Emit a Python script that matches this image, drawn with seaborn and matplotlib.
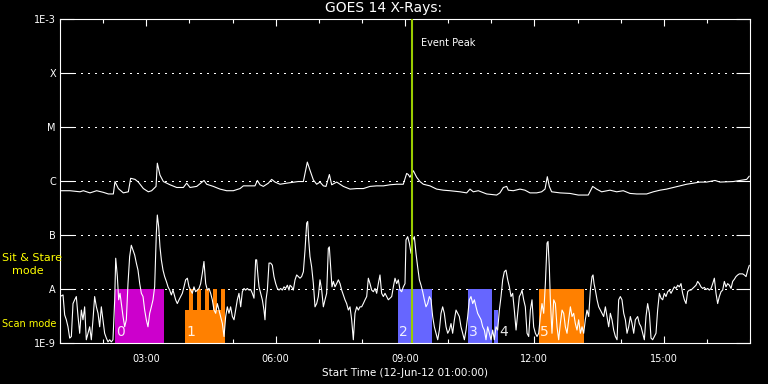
import numpy as np
import pandas as pd
import matplotlib
matplotlib.use("Agg")
import matplotlib.pyplot as plt
import seaborn as sns
from matplotlib.ticker import MultipleLocator, NullLocator

# GOES 14 X-ray flux, time in minutes after 01:00 UT, values are log10(W/m^2)
# 0.5-4 A channel (lower curve)
low_t = [0, 4.2, 6.5, 8.8, 11.1, 13.5, 15.8, 18.1, 20.4, 22.7,
         25.1, 27.4, 29.7, 32.0, 34.3, 36.6, 39.0, 41.3, 43.6, 45.9,
         48.2, 50.6, 52.9, 55.2, 57.5, 59.8, 62.1, 64.5, 66.8, 69.1,
         71.4, 73.7, 76.1, 77.5, 79.8, 81.6, 83.5, 85.3, 87.7, 90.0,
         92.3, 94.6, 96.9, 99.2, 101.6, 103.9, 106.2, 108.5, 110.9, 113.2,
         115.5, 117.8, 120.1, 122.4, 124.8, 127.1, 129.4, 131.7, 134.0, 135.4,
         137.3, 139.1, 141.0, 143.3, 145.6, 148.0, 150.3, 152.6, 154.9, 157.2,
         160.9, 163.2, 165.6, 167.9, 170.2, 172.5, 174.8, 177.2, 179.5, 181.8,
         184.1, 186.4, 188.7, 191.1, 193.4, 195.7, 198.0, 200.3, 202.7, 205.0,
         207.3, 209.6, 211.9, 214.3, 216.6, 218.9, 221.2, 223.5, 225.9, 228.2,
         230.5, 232.8, 235.1, 237.4, 239.8, 242.1, 244.4, 246.7, 249.0, 251.4,
         253.7, 256.0, 258.3, 260.6, 263.0, 265.3, 267.6, 269.9, 272.2, 273.6,
         275.5, 276.9, 279.2, 281.5, 283.8, 285.2, 286.6, 288.5, 290.8, 293.1,
         295.4, 297.7, 300.1, 302.4, 304.7, 307.0, 309.3, 311.7, 314.0, 316.3,
         318.6,
         320.0, 322.3, 324.6, 327.0, 329.3, 331.6, 333.9, 336.2, 338.6, 340.9,
         343.2, 344.6, 346.0, 347.8, 350.1, 352.5, 354.8, 357.1, 359.4, 361.7,
         364.1, 366.4, 368.7, 371.0, 373.3, 374.7, 376.6, 378.4, 380.3, 382.6,
         384.9, 387.3, 389.6, 391.9, 394.2, 396.5, 398.8, 401.2, 403.5, 405.8,
         408.1, 410.4, 412.8, 415.1, 417.4, 419.7, 422.0, 424.4, 426.7, 429.0,
         431.3, 433.6, 436.0, 438.3, 440.6, 442.9, 445.2, 447.5, 449.9, 452.2,
         454.5, 456.8, 459.1, 461.5, 463.8, 466.1, 468.4, 470.7, 473.1, 475.4,
         477.7, 480.0,
         481.4, 483.7, 486.0, 488.4, 490.7, 493.0, 495.3, 497.6, 500.0, 502.3,
         504.6, 506.9, 509.2, 511.5, 513.9, 516.2, 518.5, 520.8, 523.1, 525.5,
         527.8, 530.1, 532.4, 534.7, 537.1, 539.4, 541.7, 544.0, 546.3, 548.7,
         551.0, 553.3, 555.6, 557.9, 560.2, 562.6, 564.9, 567.2, 569.5, 571.8,
         574.2, 576.5, 578.8, 581.1, 583.4, 585.8, 588.1, 590.4, 592.7, 595.0,
         597.4, 599.7, 602.0, 604.3, 606.6, 608.9, 611.3, 613.6, 615.9, 618.2,
         620.5, 622.9, 625.2, 627.5, 629.8, 632.1, 634.5, 636.8, 639.1, 641.4,
         642.8, 645.1, 647.4, 649.8, 652.1, 654.4, 656.7, 659.0, 661.4, 663.7,
         666.0, 668.3, 670.6, 673.0, 675.3, 677.6, 679.0, 680.8, 682.2, 684.5,
         686.9, 689.2, 691.5, 693.8, 696.1, 698.5, 700.8, 703.1, 705.4, 707.7,
         710.1, 712.4, 714.7, 717.0, 719.3, 721.6, 724.0, 726.3, 728.6, 730.9,
         733.2, 735.6, 737.9, 740.2, 741.6, 743.0, 744.8, 747.2, 749.5, 751.8,
         754.1, 756.4, 758.8, 761.1, 763.4, 765.7, 768.0, 770.3, 772.7, 775.0,
         777.3, 779.6, 781.9, 784.3, 786.6, 788.9, 791.2, 793.5, 795.9, 798.2,
         800.5,
         803.7, 806.0, 808.4, 810.7, 813.0, 815.3, 817.6, 820.0, 822.3, 824.6,
         826.9, 829.2, 831.5, 833.9, 836.2, 838.5, 840.8, 843.1, 845.5, 847.8,
         850.1, 852.4, 854.7, 857.1, 859.4, 861.7, 864.0, 866.3, 868.7, 871.0,
         873.3, 875.6, 877.9, 880.2, 882.6, 884.9, 887.2, 889.5, 891.8, 894.2,
         896.5, 898.8, 901.1, 903.4, 905.8, 908.1, 910.4, 912.7, 915.0, 917.3,
         919.7, 922.0, 924.3, 926.6, 928.9, 931.3, 933.6, 935.9, 938.2, 940.5,
         942.9, 945.2, 947.5, 949.8, 952.1, 954.5, 956.8, 959.1]
low_v = [-8.14, -8.11, -8.48, -8.57, -8.70, -8.91, -8.88, -8.27, -8.20, -8.14,
         -8.51, -8.82, -8.39, -8.57, -8.33, -8.94, -8.82, -8.70, -8.94, -8.57,
         -8.14, -8.33, -8.45, -8.70, -8.33, -8.57, -8.82, -8.91, -8.98, -8.94,
         -8.98, -8.94, -8.20, -7.43, -7.77, -8.20, -8.08, -8.27, -8.51, -8.70,
         -8.57, -7.90, -7.40, -7.19, -7.28, -7.37, -7.52, -7.65, -7.90, -8.08,
         -8.14, -8.39, -8.57, -8.70, -8.45, -8.33, -8.20, -7.96, -6.97, -6.63,
         -6.85, -7.22, -7.46, -7.65, -7.77, -7.86, -7.96, -8.02, -8.11, -8.02,
         -8.20, -8.27, -8.20, -8.14, -8.08, -7.96, -7.83, -7.80, -7.96, -8.02,
         -8.08, -7.96, -8.05, -8.02, -7.99, -7.90, -7.71, -7.49, -7.90, -8.02,
         -7.99, -8.08, -8.20, -8.39, -8.45, -8.27, -8.39, -8.51, -8.64, -8.88,
         -8.51, -8.33, -8.45, -8.33, -8.51, -8.57, -8.39, -8.20, -8.08, -8.33,
         -8.05, -7.99, -8.02, -7.99, -8.02, -8.01, -8.08, -8.17, -7.46, -7.46,
         -7.77, -7.96, -8.08, -8.20, -8.39, -8.57, -8.20, -8.02, -7.52, -7.52,
         -7.56, -7.77, -7.90, -7.99, -8.02, -7.99, -8.02, -7.96, -7.99, -7.93,
         -8.02,
         -7.93, -7.96, -8.02, -7.83, -7.74, -7.77, -7.80, -7.77, -7.68, -7.28,
         -6.78, -6.75, -7.09, -7.40, -7.59, -7.90, -8.33, -8.27, -8.14, -7.83,
         -8.02, -8.33, -8.20, -8.08, -7.25, -7.22, -7.59, -7.96, -7.86, -7.96,
         -7.90, -7.83, -7.90, -8.02, -8.11, -8.20, -8.27, -8.39, -8.33, -8.57,
         -8.94, -8.45, -8.33, -8.39, -8.33, -8.33, -8.27, -8.20, -8.14, -7.80,
         -7.90, -8.02, -8.05, -7.99, -8.08, -7.90, -7.74, -8.08, -8.14, -8.08,
         -8.14, -8.20, -8.17, -8.14, -7.96, -7.80, -7.90, -7.83, -8.02, -8.05,
         -7.96, -7.90,
         -7.09, -7.03, -7.15, -7.34, -7.09, -7.03, -7.34, -7.59, -7.83, -7.93,
         -8.05, -8.20, -8.33, -8.27, -8.14, -8.20, -8.51, -8.70, -8.82, -8.94,
         -8.76, -8.45, -8.33, -8.45, -8.70, -8.82, -8.76, -8.64, -8.82, -8.57,
         -8.39, -8.45, -8.51, -8.70, -8.82, -8.94, -8.76, -8.51, -8.20, -8.14,
         -8.27, -8.20, -8.33, -8.45, -8.51, -8.57, -8.70, -8.76, -8.94, -8.70,
         -8.82, -8.94, -8.76, -8.94, -8.70, -8.76, -8.39, -8.14, -7.83, -7.68,
         -7.65, -7.83, -7.96, -8.14, -8.08, -8.39, -8.76, -8.45, -8.14, -8.08,
         -8.02, -8.20, -8.33, -8.82, -8.88, -8.39, -8.20, -8.70, -8.82, -8.88,
         -8.82, -8.51, -8.27, -8.45, -7.90, -7.15, -7.12, -7.59, -8.20, -8.82,
         -8.20, -8.27, -8.70, -8.94, -8.64, -8.39, -8.45, -8.70, -8.82, -8.57,
         -8.33, -8.51, -8.45, -8.64, -8.76, -8.57, -8.82, -8.70, -8.82, -8.57,
         -8.39, -8.51, -8.02, -7.77, -7.74, -7.90, -8.02, -8.20, -8.33, -8.39,
         -8.45, -8.51, -8.33, -8.51, -8.70, -8.45, -8.57, -8.76, -8.88, -8.94,
         -8.20, -8.14, -8.20, -8.45, -8.57, -8.82, -8.70, -8.51, -8.64, -8.82,
         -8.57,
         -8.51, -8.64, -8.70, -8.82, -8.94, -8.51, -8.27, -8.45, -8.91, -8.94,
         -8.88, -8.82, -8.39, -8.08, -8.17, -8.20, -8.08, -8.14, -8.05, -8.02,
         -8.08, -8.02, -7.96, -7.99, -7.93, -7.96, -7.90, -8.08, -8.20, -8.27,
         -8.05, -8.02, -8.02, -7.99, -7.96, -7.93, -7.86, -7.90, -7.96, -7.99,
         -7.97, -8.01, -7.99, -8.02, -7.99, -7.90, -7.80, -8.08, -8.27, -8.14,
         -8.05, -8.02, -7.86, -7.96, -7.90, -7.93, -7.99, -7.86, -7.82, -7.77,
         -7.74, -7.72, -7.72, -7.72, -7.74, -7.77, -7.65, -7.56]

# 1-8 A channel (upper curve)
high_t = [0, 13.9, 27.8, 32.5, 41.7, 51.0, 60.3, 67.3, 74.2, 76.5,
          81.2, 88.1, 95.1, 98.3, 104.4, 109.0, 116.0, 122.9, 127.5, 133.6,
          135.4, 139.1, 143.8, 153.1, 162.3, 171.6, 176.2, 180.9, 190.2, 200.4,
          204.1, 213.3, 222.6, 231.9, 241.2, 250.5, 255.1, 264.4, 271.3, 274.6,
          278.3, 282.9, 289.9, 294.5, 299.2, 306.1, 315.4, 327.0, 331.6, 338.6,
          344.1, 347.8, 352.5, 357.1, 361.8, 366.4, 370.1, 374.8, 378.0, 385.0,
          394.2, 403.5, 412.8, 422.1, 431.3, 440.6, 449.9, 459.2, 468.4,
          477.6, 482.3, 484.6, 486.9, 491.6, 496.2, 500.8, 505.5, 514.7, 524.0,
          533.3, 542.6, 556.5, 565.8, 570.4, 575.0, 582.0, 593.6, 607.5, 612.1,
          616.8, 621.4, 623.7, 630.7, 640.0, 646.9, 653.9, 663.2, 670.1, 674.8,
          678.0, 680.8, 684.0, 695.6, 709.5, 721.1, 735.0, 741.1, 746.6, 753.6,
          765.2, 774.5, 783.7, 793.0, 802.3, 816.2, 825.5, 834.8, 844.0, 853.3,
          862.6, 871.9, 881.1, 890.4, 899.7, 911.3, 918.2, 936.8, 946.1, 955.4,
          959.0]
high_v = [-6.18, -6.18, -6.20, -6.18, -6.22, -6.18, -6.21, -6.24, -6.24, -6.01,
          -6.14, -6.22, -6.20, -5.95, -5.97, -6.02, -6.14, -6.20, -6.18, -6.10,
          -5.67, -5.89, -6.01, -6.07, -6.12, -6.12, -6.04, -6.12, -6.10, -5.99,
          -6.06, -6.10, -6.15, -6.18, -6.18, -6.14, -6.09, -6.09, -6.09, -5.99,
          -6.07, -6.10, -6.04, -5.97, -6.02, -6.06, -6.04, -6.02, -6.01, -6.01,
          -5.65, -5.80, -5.98, -6.06, -6.02, -6.09, -6.10, -5.88, -6.07, -6.02,
          -6.10, -6.15, -6.14, -6.14, -6.10, -6.09, -6.09, -6.07, -6.06,
          -6.06, -5.86, -5.88, -5.93, -5.81, -5.93, -6.01, -6.06, -6.09, -6.15,
          -6.17, -6.18, -6.20, -6.22, -6.15, -6.20, -6.18, -6.24, -6.26, -6.22,
          -6.12, -6.10, -6.17, -6.18, -6.15, -6.17, -6.22, -6.22, -6.20, -6.15,
          -5.92, -6.10, -6.20, -6.22, -6.23, -6.26, -6.26, -6.10, -6.15, -6.20,
          -6.17, -6.20, -6.18, -6.23, -6.24, -6.24, -6.20, -6.17, -6.15, -6.12,
          -6.09, -6.06, -6.04, -6.02, -6.02, -5.99, -6.02, -6.01, -5.99, -5.97,
          -5.91]

# observation windows (minutes after 01:00), top level in log10 flux
obs_start = [76.1, 173.9, 179.5, 190.6, 201.7, 212.9, 224.0, 470.7, 567.6, 604.2, 666.9]
obs_end = [144.7, 229.1, 185.0, 196.2, 207.3, 218.4, 229.1, 517.6, 601.0, 609.0, 728.6]
obs_top = [-8.0, -8.39, -8.0, -8.0, -8.0, -8.0, -8.0, -8.0, -8.0, -8.39, -8.0]
obs_color = ["#cc00cc", "#ff8000", "#ff8000", "#ff8000", "#ff8000", "#ff8000",
             "#ff8000", "#6666ff", "#6666ff", "#6666ff", "#ff8000"]
obs_names = ["0", "1", "2", "3", "4", "5"]
obs_name_t = [78, 176, 472, 569, 611, 668]

event_t = 490
level_vals = [-9, -8, -7, -6, -5, -4, -3]
level_names = ["1E-9", "A", "B", "C", "M", "X", "1E-3"]
hour_ticks = [120, 300, 480, 660, 840]
hour_labels = ["03:00", "06:00", "09:00", "12:00", "15:00"]

sns.set_style("dark")
plt.rcParams["font.family"] = ["DejaVu Sans"]

low = pd.DataFrame({"t": low_t, "flux": 10 ** np.array(low_v)})
high = pd.DataFrame({"t": high_t, "flux": 10 ** np.array(high_v)})

fig = plt.figure(figsize=(7.68, 3.84), dpi=100, facecolor="black")
ax = fig.add_axes([60 / 768, 1 - 343 / 384, 690 / 768, 324 / 384])
ax.set_facecolor("black")
ax.set_yscale("log")

for s, e, top, c in zip(obs_start, obs_end, obs_top, obs_color):
    ax.fill_between([s, e], 1e-9, 10 ** top, color=c, lw=0, zorder=1,
                    antialiased=False)

for name, t in zip(obs_names, obs_name_t):
    ax.text(t, 10 ** -8.93, name, color="white", fontsize=10, ha="left",
            va="bottom", zorder=5, alpha=0.9)

sns.lineplot(data=low, x="t", y="flux", ax=ax, color="white", lw=0.8,
             sort=False, estimator=None, zorder=3)
sns.lineplot(data=high, x="t", y="flux", ax=ax, color="white", lw=0.8,
             sort=False, estimator=None, zorder=3)

ax.axvline(event_t, color="#99cc00", lw=1.5, zorder=4)
ax.annotate("Event Peak", xy=(event_t, 1e-3), xytext=(9, -24),
            textcoords="offset pixels", color="white", fontsize=7,
            ha="left", va="center")

ax.set_xlim(0, 960)
ax.set_ylim(1e-9, 1e-3)
ax.set_yticks([10.0 ** v for v in level_vals])
ax.set_yticklabels(level_names)
ax.yaxis.set_minor_locator(NullLocator())
ax.set_xticks(hour_ticks)
ax.set_xticklabels(hour_labels)
ax.xaxis.set_minor_locator(MultipleLocator(60))

ax.yaxis.grid(True, color="white", linestyle=(0, (1, 5)), lw=0.75,
              antialiased=False)
ax.xaxis.grid(False)
for sp in ax.spines.values():
    sp.set_visible(True)
    sp.set_color("white")
    sp.set_linewidth(0.8)

ax.tick_params(axis="y", which="major", direction="in", length=10, width=0.8,
               left=True, right=True, colors="white", labelsize=7, pad=3)
ax.tick_params(axis="x", which="major", direction="in", length=5, width=0.8,
               bottom=True, top=True, colors="white", labelsize=7, pad=8)
ax.tick_params(axis="x", which="minor", direction="in", length=3, width=0.8,
               bottom=True, top=True, colors="white")

ax.set_xlabel("Start Time (12-Jun-12 01:00:00)", color="white", fontsize=7.5,
              labelpad=3)
ax.set_ylabel("")

fig.text(0.5, 1 - 8 / 384, "GOES 14 X-Rays:", ha="center", va="center",
         color="white", fontsize=10)
fig.text(2 / 768, 1 - 258 / 384, "Sit & Stare", ha="left", va="center",
         color="yellow", fontsize=8)
fig.text(12 / 768, 1 - 271 / 384, "mode", ha="left", va="center",
         color="yellow", fontsize=8)
fig.text(2 / 768, 1 - 324 / 384, "Scan mode", ha="left", va="center",
         color="yellow", fontsize=7)

fig.savefig("out.png", dpi=100, facecolor="black")
